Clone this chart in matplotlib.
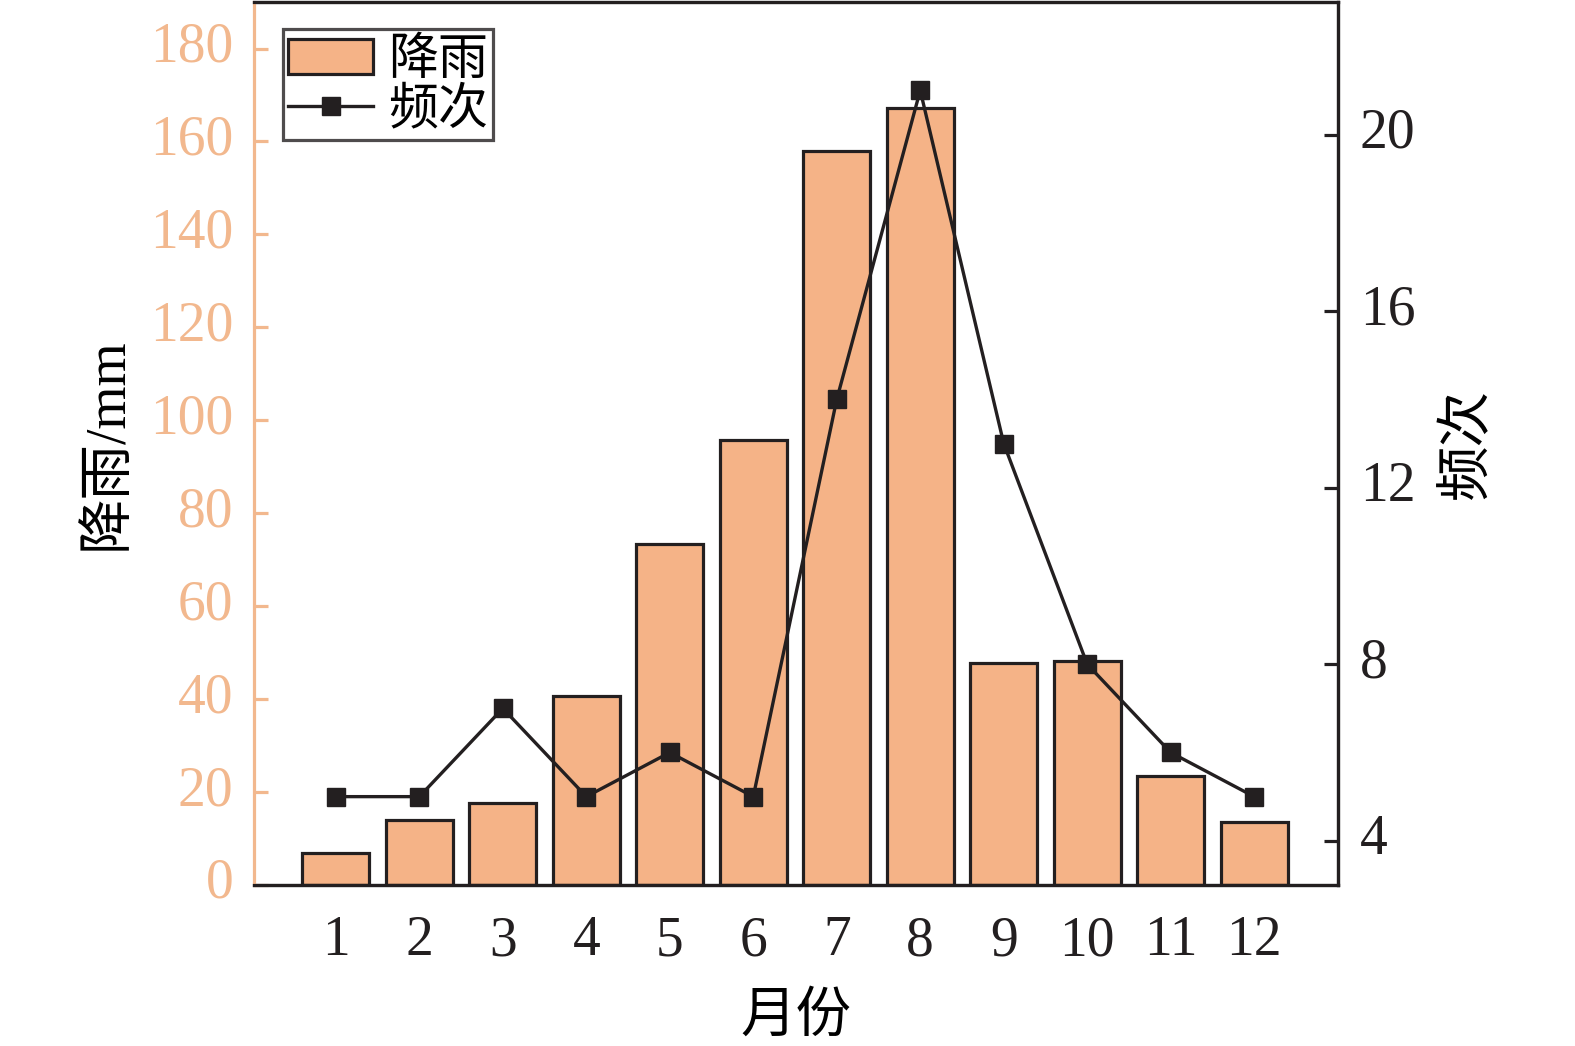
import numpy as np
import matplotlib
matplotlib.use("Agg")
import matplotlib.pyplot as plt
import matplotlib.transforms as mtransforms
from matplotlib.patches import Patch
from matplotlib.lines import Line2D

plt.rcParams['font.family'] = ['Liberation Serif', 'Noto Sans CJK SC']

months = [1, 2, 3, 4, 5, 6, 7, 8, 9, 10, 11, 12]
month_labels = [str(m) for m in months]
rain = [6.9, 14.0, 17.6, 40.6, 73.3, 95.7, 158.0, 167.2, 47.8, 48.2, 23.5, 13.6]
freq = [5, 5, 7, 5, 6, 5, 14, 21, 13, 8, 6, 5]
left_ticks = [0, 20, 40, 60, 80, 100, 120, 140, 160, 180]
right_ticks = [4, 8, 12, 16, 20]

bar_color = "#F5B387"
orange = "#F2B88E"
dark = "#231F20"

fig = plt.figure(figsize=(15.75, 10.46), dpi=100)
ax = fig.add_axes([0.1613, 0.154, 0.688, 0.844])

ax.bar(months, rain, width=0.8, color=bar_color, edgecolor=dark, linewidth=2.3, zorder=2)
ax.set_xlim(0.02, 13.0)
ax.set_ylim(0, 190)
ax.set_yticks(left_ticks)
ax.set_xticks(months)
ax.set_xticklabels(month_labels)

ax.tick_params(axis='y', direction='in', length=10, width=2.3, colors=orange,
               labelsize=40, pad=15)
ax.tick_params(axis='x', direction='in', length=11, width=2.3, colors=dark,
               labelsize=40, pad=22)
ax.spines['left'].set_color(orange)
ax.spines['left'].set_linewidth(2.3)
ax.spines['left'].set_zorder(5)
for s in ['bottom', 'top', 'right']:
    ax.spines[s].set_color(dark)
    ax.spines[s].set_linewidth(2.3)

ax.set_xlabel("月份", fontsize=40, family=['Noto Sans CJK SC'], labelpad=14)
ax.set_ylabel("降雨/mm", fontsize=40, labelpad=12)

ax2 = ax.twinx()
ax2.plot(months, freq, color=dark, linewidth=2.4, marker='s', markersize=13,
         markerfacecolor=dark, markeredgecolor=dark, zorder=3)
ax2.set_ylim(3, 23)
ax2.set_yticks(right_ticks)
ax2.tick_params(axis='y', direction='in', length=10, width=2.3, colors=dark,
                labelsize=40, pad=16)
ax2.spines['left'].set_visible(False)
for s in ['bottom', 'top', 'right']:
    ax2.spines[s].set_color(dark)
    ax2.spines[s].set_linewidth(2.3)
ax2.set_ylabel("频次", fontsize=40, family=['Noto Sans CJK SC'], labelpad=16)

# nudge y tick labels up a little, as in the original
shift = mtransforms.ScaledTranslation(0, 5 / 72, fig.dpi_scale_trans)
for lab in ax.get_yticklabels() + ax2.get_yticklabels():
    lab.set_transform(lab.get_transform() + shift)

handles = [
    Patch(facecolor=bar_color, edgecolor=dark, linewidth=2.3),
    Line2D([0], [0], color=dark, linewidth=2.4, marker='s', markersize=13),
]
leg = ax2.legend(handles, ["降雨", "频次"], loc='upper left',
                 bbox_to_anchor=(0.027, 0.97), frameon=True, fancybox=False,
                 edgecolor=dark, prop={'family': 'Noto Sans CJK SC', 'size': 36},
                 handlelength=1.7, handletextpad=0.3, borderpad=0.1,
                 labelspacing=-0.05, borderaxespad=0.0)
leg.get_frame().set_linewidth(2.3)

fig.savefig("out.png", dpi=100)
plt.close(fig)
